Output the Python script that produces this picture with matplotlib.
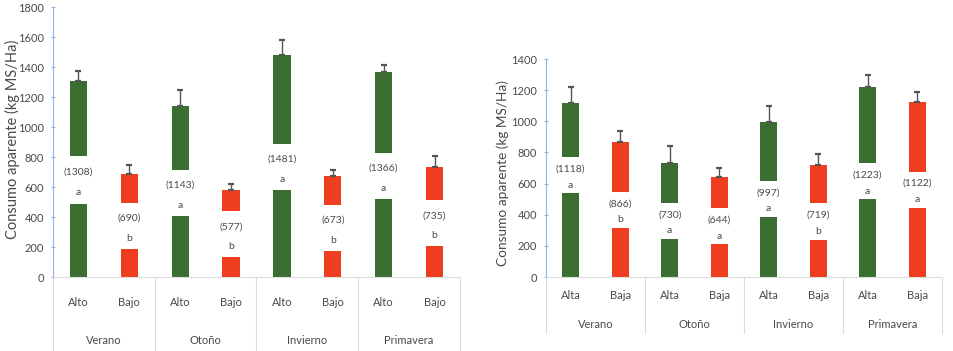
#!/usr/bin/env python3
"""Consumo aparente (kg MS/Ha) por estación y nivel: dos paneles de barras."""
import matplotlib

matplotlib.use("Agg")
import matplotlib.pyplot as plt
import matplotlib.transforms as mtransforms

plt.rcParams["font.family"] = ["Lato", "DejaVu Sans"]

GREEN = "#3b6e31"
RED = "#ef3e1f"
AXIS_BLUE = "#8fb4e3"
GRID_GRAY = "#dcdcdc"
TEXT_GRAY = "#4a4a4a"

seasons = ["Verano", "Otoño", "Invierno", "Primavera"]

# panel izquierdo
left_levels = ["Alto", "Bajo"]
left_means = [1308, 690, 1143, 577, 1481, 673, 1366, 735]
left_err = [68, 55, 101, 46, 100, 40, 49, 70]
left_gap_low = [489, 187, 409, 133, 582, 171, 520, 204]
left_gap_high = [809, 493, 715, 437, 889, 482, 827, 511]
left_letters = ["a", "b", "a", "b", "a", "b", "a", "b"]

# panel derecho
right_levels = ["Alta", "Baja"]
right_means = [1118, 866, 730, 644, 997, 719, 1223, 1122]
right_err = [104, 69, 110, 56, 98, 71, 77, 68]
right_gap_low = [537, 313, 244, 210, 383, 238, 499, 445]
right_gap_high = [769, 548, 477, 441, 617, 473, 730, 676]
right_letters = ["a", "b", "a", "a", "a", "b", "a", "a"]

YLABEL = "Consumo aparente (kg MS/Ha)"


def draw_panel(ax, levels, means, err, gap_low, gap_high, letters, ymax,
               bar_w, lab_dy, let_dy, lvl_off, season_off, sep_len):
    n = len(means)
    x = list(range(n))
    colors = [GREEN if i % 2 == 0 else RED for i in x]

    # parte inferior y superior de cada barra (hueco blanco para el texto)
    ax.bar(x, gap_low, width=bar_w, color=colors, zorder=2)
    ax.bar(x, [m - g for m, g in zip(means, gap_high)], bottom=gap_high,
           width=bar_w, color=colors, zorder=2)
    ax.errorbar(x, means, yerr=[[0] * n, err], fmt="none", ecolor="#555555",
                elinewidth=1.0, capsize=2.2, capthick=1.6, zorder=3)

    for xi, m, lo, hi, let in zip(x, means, gap_low, gap_high, letters):
        mid = (lo + hi) / 2
        ax.annotate(f"({m})", (xi, mid), xytext=(0, lab_dy), textcoords="offset points",
                    ha="center", va="center", fontsize=7.5, color=TEXT_GRAY)
        ax.annotate(let, (xi, mid), xytext=(0, let_dy), textcoords="offset points",
                    ha="center", va="center", fontsize=7.5, color=TEXT_GRAY)

    ax.set_xlim(-0.5, n - 0.5)
    ax.set_ylim(0, ymax)
    ax.set_yticks(range(0, ymax + 1, 200))
    ax.tick_params(axis="y", labelsize=8, labelcolor=TEXT_GRAY, color=AXIS_BLUE,
                   direction="inout", length=3, pad=5)
    ax.set_xticks([])
    for s in ("top", "right"):
        ax.spines[s].set_visible(False)
    ax.spines["left"].set_color(AXIS_BLUE)
    ax.spines["bottom"].set_color(GRID_GRAY)

    trans = mtransforms.blended_transform_factory(ax.transData, ax.transAxes)
    for i in x:
        ax.annotate(levels[i % 2], (i, 0), xycoords=trans, xytext=(0, lvl_off),
                    textcoords="offset points", ha="center", va="center",
                    fontsize=8, color=TEXT_GRAY)
    for k, name in enumerate(seasons):
        ax.annotate(name, (2 * k + 0.5, 0), xycoords=trans, xytext=(0, season_off),
                    textcoords="offset points", ha="center", va="center",
                    fontsize=8, color=TEXT_GRAY)
    for k in range(len(seasons) + 1):
        ax.plot([2 * k - 0.5] * 2, [0, -sep_len], transform=trans, color=GRID_GRAY,
                lw=0.8, clip_on=False)


def main():
    fig = plt.figure(figsize=(9.54, 3.51), dpi=100)
    ax1 = fig.add_axes([53 / 954, 74 / 351, 407 / 954, 270 / 351])
    ax2 = fig.add_axes([546 / 954, 74 / 351, 396 / 954, 218 / 351])

    draw_panel(ax1, left_levels, left_means, left_err, left_gap_low, left_gap_high,
               left_letters, 1800, 0.34, 5.5, -9, -18, -45.5, 0.274)
    draw_panel(ax2, right_levels, right_means, right_err, right_gap_low, right_gap_high,
               right_letters, 1400, 0.34, 4.5, -7, -13, -34, 0.257)

    fig.text(12 / 954, 1 - 139 / 351, YLABEL, rotation=90, ha="center", va="center",
             fontsize=10.5, color=TEXT_GRAY)
    fig.text(503 / 954, 1 - 173 / 351, YLABEL, rotation=90, ha="center", va="center",
             fontsize=9.8, color=TEXT_GRAY)

    fig.savefig("out.png", dpi=100)
    plt.close(fig)


if __name__ == "__main__":
    main()
